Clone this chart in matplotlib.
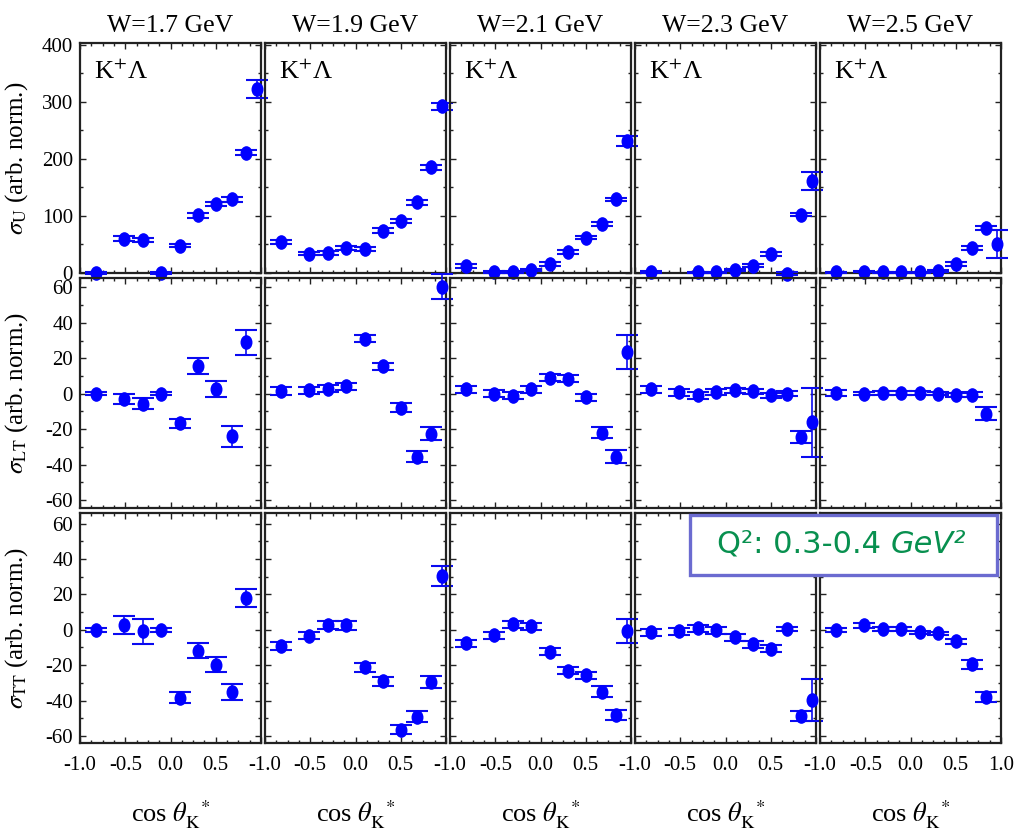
import numpy as np
import matplotlib
matplotlib.use("Agg")
import matplotlib.pyplot as plt
from matplotlib.patches import Rectangle
from matplotlib.path import Path
from matplotlib.ticker import MultipleLocator, FuncFormatter

plt.rcParams["font.family"] = ["Liberation Serif", "DejaVu Serif"]
plt.rcParams["mathtext.fontset"] = "stix"
plt.rcParams["axes.unicode_minus"] = False

nan = np.nan

# cos(theta_K*) bin centres, same for every W bin
cos_theta = [-0.82, -0.51, -0.30, -0.10, 0.10, 0.30, 0.50, 0.68, 0.83, 0.96]

w_titles = ["W=1.7 GeV", "W=1.9 GeV", "W=2.1 GeV", "W=2.3 GeV", "W=2.5 GeV"]

# sigma_U, one list per W bin
sigma_u = [
    [0, 60, 58, 0, 48, 101, 121, 129, 211, 322],
    [54, 34, 35, 44, 42, 74, 91, 124, 185, 292],
    [12, 2, 2, 5, 16, 37, 62, 86, 129, 231],
    [2, nan, 1, 1, 5, 13, 33, -1, 102, 161],
    [1, 2, 1, 1, 1, 4, 16, 44, 79, 51],
]
sigma_u_err = [
    [1, 4, 4, 1, 2, 4, 4, 4, 4, 16],
    [3, 3, 3, 3, 3, 4, 4, 4, 4, 6],
    [3, 2, 2, 2, 3, 3, 3, 3, 3, 9],
    [2, nan, 1, 1, 2, 3, 3, 2, 3, 16],
    [1, 1, 1, 1, 1, 2, 3, 3, 3, 25],
]

# sigma_LT
sigma_lt = [
    [0, -3, -5.7, 0, -16.6, 15.8, 2.8, -24, 28.9, nan],
    [1.5, 1.9, 2.8, 4.2, 31, 15.5, -8, -35.5, -22.6, 60.4],
    [2.5, 0, -1.1, 2.6, 8.9, 8.5, -1.9, -22, -35.5, 23.6],
    [2.6, 0.8, -0.9, 0.9, 1.9, 1.3, -0.9, 0, -24.5, -16],
    [0.4, 0, 0.4, 0.4, 0.4, 0, -0.6, -0.6, -11.3, nan],
]
sigma_lt_err = [
    [1, 2.8, 3.2, 1, 2.5, 4.5, 4.5, 5.8, 7.2, nan],
    [2.2, 2, 2, 2, 2, 2, 2.5, 3, 3.6, 7],
    [2, 2, 2, 2, 2, 2, 2, 3, 3.5, 9.8],
    [2, 2, 2, 1.5, 1.5, 1.5, 1.5, 1.5, 3.4, 19.5],
    [1.5, 1, 1, 1, 1, 1, 1, 1.5, 3.8, nan],
]

# sigma_TT
sigma_tt = [
    [0, 2.8, -0.9, 0, -38.3, -11.9, -19.8, -35.3, 17.9, nan],
    [-9, -3.4, 2.8, 2.5, -21.3, -29.2, -56.4, -49.2, -29.4, 30.4],
    [-7.5, -3.2, 3.2, 1.9, -12.3, -23.2, -25.7, -34.9, -48.1, -0.6],
    [-1.5, -0.9, 0.9, -0.4, -4.2, -8.1, -10.8, 0.4, -48.7, -39.8],
    [0, 2.6, 0.4, 0.4, -1.5, -2.1, -6.6, -19.4, -38.1, nan],
]
sigma_tt_err = [
    [1, 5, 6.9, 1, 2.9, 4.2, 4.2, 4.6, 5.3, nan],
    [2.2, 2, 2.4, 2.4, 2.7, 2.5, 2.5, 3.1, 3.3, 5.6],
    [2, 2, 2, 2, 2, 2, 2, 3, 3, 6.6],
    [2, 2, 2, 2, 2, 2, 2, 1, 2.8, 11.8],
    [1, 1.5, 1, 1, 1, 1, 1.5, 2.5, 3, nan],
]

rows = [
    (sigma_u, sigma_u_err, r"$\sigma_{\rm U}$ (arb. norm.)", (0, 403), 100, 50),
    (sigma_lt, sigma_lt_err, r"$\sigma_{\rm LT}$ (arb. norm.)", (-64.5, 65.3), 20, 10),
    (sigma_tt, sigma_tt_err, r"$\sigma_{\rm TT}$ (arb. norm.)", (-64, 66), 20, 10),
]

# slightly tall ellipse, like the reference dots
circle = Path.unit_circle()
dot = Path(circle.vertices * [0.8, 1.0], circle.codes)

FW, FH = 1014, 830
col_left = [80, 265, 450, 635, 820]
row_top = [43, 278, 513]
pw, ph = 181, 230

fig = plt.figure(figsize=(FW / 100, FH / 100), dpi=100)

for r, (vals, errs, ylab, ylim, ymaj, ymin) in enumerate(rows):
    for c in range(5):
        ax = fig.add_axes([col_left[c] / FW, 1 - (row_top[r] + ph) / FH, pw / FW, ph / FH])
        ax.set_facecolor("none")

        cont = ax.errorbar(
            cos_theta, vals[c], yerr=errs[c],
            fmt="none", ecolor="#0a0af0", elinewidth=1.2,
            capsize=8, capthick=1.5, zorder=3,
        )
        for art in list(cont.lines[1]) + list(cont.lines[2]):
            art.set_clip_on(False)
        ax.plot(cos_theta, vals[c], linestyle="none", marker=dot, ms=9.5,
                color="#0000ff", mec="#0000ff", clip_on=False, zorder=4)

        ax.set_xlim(-1, 1)
        ax.set_ylim(*ylim)
        ax.xaxis.set_major_locator(MultipleLocator(0.5))
        ax.xaxis.set_minor_locator(MultipleLocator(0.125))
        ax.yaxis.set_major_locator(MultipleLocator(ymaj))
        ax.yaxis.set_minor_locator(MultipleLocator(ymin))
        ax.tick_params(which="both", direction="in", top=True, right=True,
                       width=1.0, color="#222222", labelsize=15)
        ax.tick_params(which="major", length=4)
        ax.tick_params(which="minor", length=2.2)
        ax.tick_params(axis="x", pad=9)
        ax.tick_params(axis="y", pad=5)
        for sp in ax.spines.values():
            sp.set_linewidth(1.6)
            sp.set_color("#222222")

        if r == 2:
            last = c == 4
            ax.xaxis.set_major_formatter(FuncFormatter(
                lambda v, p, last=last: "" if (v > 0.9 and not last) else f"{v:.1f}"))
            ax.set_xlabel(r"cos $\theta_{\rm K}^{\ \ *}$", fontsize=19)
            ax.xaxis.set_label_coords(0.5, -0.24)
        else:
            ax.set_xticklabels([])

        if c == 0:
            ax.set_ylabel(ylab, fontsize=18)
            ax.yaxis.set_label_coords(-50 / pw, 0.5)
        else:
            ax.set_yticklabels([])

        if r == 0:
            ax.set_title(w_titles[c], fontsize=18.5, pad=8)
            ax.text(0.08, 0.875, r"K$^{+}$Λ", transform=ax.transAxes,
                    fontsize=19, ha="left", va="center")

# Q^2 box over the lower right panels
box = Rectangle((690 / FW, 1 - 575 / FH), 307 / FW, 60 / FH,
                transform=fig.transFigure, facecolor="white",
                edgecolor="#6b6bd0", linewidth=2.4, zorder=10)
fig.add_artist(box)
fig.text(891 / FW, 1 - 544 / FH, "Q²: 0.3-0.4 ", fontsize=22, color="#08904f",
         family="DejaVu Sans", ha="right", va="center", zorder=11)
fig.text(891 / FW, 1 - 544 / FH, "GeV²", fontsize=22, color="#08904f",
         family="DejaVu Sans", style="italic", ha="left", va="center", zorder=11)

fig.savefig("out.png", dpi=100)
